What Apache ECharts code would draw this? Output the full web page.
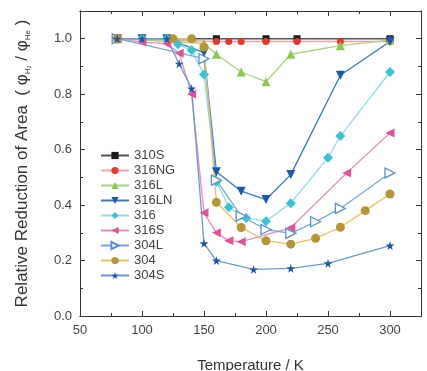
<!DOCTYPE html>
<html><head><meta charset="utf-8">
<script src="https://cdn.jsdelivr.net/npm/echarts@6/dist/echarts.min.js"></script>
<style>html,body{margin:0;padding:0;background:#fff}#c{width:427px;height:371px}</style>
</head><body><div id="c"></div>
<script>
const names = ['310S','316NG','316L','316LN','316','316S','304L','304','304S'];
const d310S  = [[80,1.0],[160,1.0],[200,1.0],[225,1.0],[300,1.0]];
const d316NG = [[80,1.0],[160,0.99],[170,0.99],[180,0.99],[200,0.99],[225,0.99],[260,0.99],[300,0.99]];
const d316L  = [[80,1.0],[150,0.983],[160,0.944],[180,0.88],[200,0.845],[220,0.944],[260,0.975],[300,0.995]];
const d316LN = [[80,1.0],[100,1.0],[120,1.0],[150,0.95],[160,0.52],[180,0.45],[200,0.42],[220,0.51],[260,0.868],[300,0.99]];
const d316   = [[80,1.0],[100,1.0],[120,1.0],[129,0.98],[140,0.958],[150,0.871],[160,0.484],[170,0.392],[184,0.353],[200,0.342],[220,0.407],[250,0.571],[260,0.649],[300,0.88]];
const d316S  = [[80,1.0],[100,0.988],[120,0.982],[130,0.948],[140,0.80],[150,0.372],[160,0.30],[170,0.271],[180,0.268],[220,0.318],[265,0.516],[300,0.66]];
const d304L  = [[80,1.0],[150,0.928],[160,0.49],[180,0.36],[200,0.312],[220,0.298],[240,0.34],[260,0.388],[300,0.516]];
const d304   = [[80,1.0],[125,1.0],[140,1.0],[150,0.97],[160,0.41],[180,0.319],[200,0.271],[220,0.259],[240,0.28],[260,0.32],[280,0.38],[300,0.44]];
const d304S  = [[80,1.0],[100,1.0],[120,1.0],[130,0.91],[140,0.82],[150,0.262],[160,0.20],[190,0.168],[220,0.172],[250,0.19],[300,0.254]];
const xTicksMajor = 50, xMin = 50, xMax = 325;
const yTicksMajor = 0.2, yMin = 0, yMax = 1.1;

const star = 'path://M50,0 L61,35 L98,35 L68,57 L79,91 L50,70 L21,91 L32,57 L2,35 L39,35 Z';
const styles = {
  '310S': {symbol:'rect', size:7, rot:0, mc:'#1a1a1a', lc:'#555555'},
  '316NG':{symbol:'circle', size:7, rot:0, mc:'#e8382e', lc:'#f2a4a4'},
  '316L': {symbol:'triangle', size:9, rot:0, mc:'#8cc751', lc:'#a9d47c'},
  '316LN':{symbol:'triangle', size:9, rot:180, mc:'#1a58a8', lc:'#3a78c0'},
  '316':  {symbol:'diamond', size:10, rot:0, mc:'#3cc3d3', lc:'#94dbe6'},
  '316S': {symbol:'triangle', size:9, rot:90, mc:'#e4509a', lc:'#ee8cbc'},
  '304L': {symbol:'triangle', size:10, rot:-90, mc:'#ffffff', bc:'#5a8fd0', lc:'#7aa6da'},
  '304':  {symbol:'circle', size:9, rot:0, mc:'#b59535', lc:'#e3c463'},
  '304S': {symbol:star, size:9, rot:0, mc:'#1d55a8', lc:'#6a9ad6'}
};
const dataMap = {'310S':d310S,'316NG':d316NG,'316L':d316L,'316LN':d316LN,'316':d316,'316S':d316S,'304L':d304L,'304':d304,'304S':d304S};

const series = names.map(n => {
  const s = styles[n];
  return {
    name:n, type:'line', data:dataMap[n], xAxisIndex:0, yAxisIndex:0,
    symbol:s.symbol, symbolSize:s.size, symbolRotate:s.rot, showAllSymbol:true,
    lineStyle:{color:s.lc, width:1.3},
    itemStyle:{color:s.mc, borderColor:s.bc||s.mc, borderWidth:s.bc?1.3:0},
    emphasis:{disabled:true}, animation:false, z:2
  };
});

const lineC = '#333';
function xAx(pos, interval, tickLen, showLbl){
  return {type:'value', position:pos, min:xMin, max:xMax, interval:interval,
    axisLine:{show:true, onZero:false, lineStyle:{color:lineC, width:1}},
    axisTick:{show:true, inside:true, length:tickLen, lineStyle:{color:lineC}},
    splitLine:{show:false},
    axisLabel:{show:showLbl, fontSize:13, color:'#444', fontFamily:'Liberation Sans, Arial', margin:8,
      formatter: v => (v % 50 === 0 ? String(v) : '')},
    name: showLbl ? 'Temperature / K' : '', nameLocation:'middle', nameGap:42,
    nameTextStyle:{fontSize:15, color:'#333', fontFamily:'Liberation Sans, Arial'}};
}
function yAx(pos, interval, tickLen, showLbl){
  return {type:'value', position:pos, min:yMin, max:yMax, interval:interval,
    axisLine:{show:true, onZero:false, lineStyle:{color:lineC, width:1}},
    axisTick:{show:true, inside:true, length:tickLen, lineStyle:{color:lineC}},
    splitLine:{show:false},
    axisLabel:{show:showLbl, fontSize:13, color:'#444', fontFamily:'Liberation Sans, Arial', margin:8,
      formatter: v => (Math.abs(v*5 - Math.round(v*5)) < 1e-6 ? v.toFixed(1) : '')},
    name: showLbl ? '{a|Relative Reduction of Area  ( φ}{s|H₂}{a| / φ}{s|He}{a| )}' : '',
    nameLocation:'middle', nameGap:48, nameRotate:90,
    nameTextStyle:{color:'#333', fontFamily:'Liberation Sans, Arial',
      rich:{a:{fontSize:17, color:'#333', lineHeight:20, fontFamily:'Liberation Sans, Arial'},
            s:{fontSize:8, color:'#333', lineHeight:20, verticalAlign:'bottom', fontFamily:'Liberation Sans, Arial'}}}};
}

const chart = echarts.init(document.getElementById('c'), null, {renderer:'canvas'});
chart.setOption({
  backgroundColor:'#fff',
  animation:false,
  grid:{left:80, right:6, top:11, bottom:55, containLabel:false, outerBoundsMode:'none'},
  xAxis:[xAx('bottom', xTicksMajor, 5, true), xAx('bottom', 25, 3, false), xAx('top', xTicksMajor, 5, false), xAx('top', 25, 3, false)],
  yAxis:[yAx('left', yTicksMajor, 5, true), yAx('left', 0.1, 3, false), yAx('right', yTicksMajor, 5, false), yAx('right', 0.1, 3, false)],
  legend:{data:names, orient:'vertical', left:95, top:144, itemWidth:28, itemHeight:9, itemGap:2,
    textStyle:{fontSize:13, color:'#444', fontFamily:'Liberation Sans, Arial'}, symbolRotate:'inherit'},
  series:series
});
</script></body></html>
